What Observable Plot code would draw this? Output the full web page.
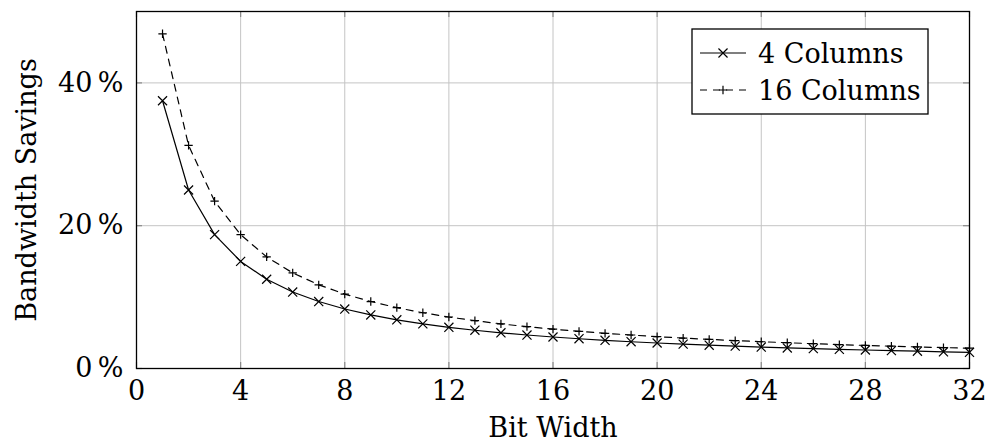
<!DOCTYPE html>
<html><head><meta charset="utf-8">
<script src="https://cdn.jsdelivr.net/npm/d3@7"></script>
<script src="https://cdn.jsdelivr.net/npm/@observablehq/plot@0.6"></script>
<style>
body{margin:0;background:#fff}
#chart{position:relative;width:988px;height:443px}
#chart svg{display:block}
</style>
</head><body><div id="chart"></div>
<script>
const bitWidths = [1,2,3,4,5,6,7,8,9,10,11,12,13,14,15,16,17,18,19,20,21,22,23,24,25,26,27,28,29,30,31,32];
const savings4 = [37.5,25.0,18.75,15.0,12.5,10.71,9.38,8.33,7.5,6.82,6.25,5.77,5.36,5.0,4.69,4.41,4.17,3.95,3.75,3.57,3.41,3.26,3.13,3.0,2.88,2.78,2.68,2.59,2.5,2.42,2.34,2.27];
const savings16 = [46.88,31.25,23.44,18.75,15.63,13.39,11.72,10.42,9.38,8.52,7.81,7.21,6.70,6.25,5.86,5.51,5.21,4.93,4.69,4.46,4.26,4.08,3.91,3.75,3.61,3.47,3.35,3.23,3.13,3.02,2.93,2.84];
const seriesNames = ["4 Columns", "16 Columns"];
const xTicks = [0,4,8,12,16,20,24,28,32];
const yTicks = [0,20,40];
const xLabel = "Bit Width";
const yLabel = "Bandwidth Savings";

const data4 = bitWidths.map((b,i) => ({b, v: savings4[i], s: seriesNames[0]}));
const data16 = bitWidths.map((b,i) => ({b, v: savings16[i], s: seriesNames[1]}));

const FONT = "DejaVu Serif";
const FS = 27;
const W = 988, H = 443;
const mL = 136, mR = 19, mT = 11, mB = 75;
const plotH = H - mT - mB, plotW = W - mL - mR;
const tickLen = 6;
const gridColor = "#c4c4c4";
const tickColor = "#8a8a8a";

const svg = Plot.plot({
  width: W, height: H,
  marginLeft: mL, marginRight: mR, marginTop: mT, marginBottom: mB,
  style: {fontFamily: FONT, background: "#fff", color: "black"},
  x: {domain: [0, 32]},
  y: {domain: [0, 50]},
  marks: [
    Plot.gridX(xTicks, {stroke: gridColor, strokeOpacity: 1, strokeWidth: 1}),
    Plot.gridY(yTicks, {stroke: gridColor, strokeOpacity: 1, strokeWidth: 1}),
    // inner tick marks (bottom, top, left, right)
    Plot.ruleX(xTicks, {x: d => d, y1: 50, y2: 0, insetTop: plotH - tickLen, stroke: tickColor, strokeWidth: 1.2}),
    Plot.ruleX(xTicks, {x: d => d, y1: 50, y2: 0, insetBottom: plotH - tickLen, stroke: tickColor, strokeWidth: 1.2}),
    Plot.ruleY(yTicks, {y: d => d, x1: 0, x2: 32, insetRight: plotW - tickLen, stroke: tickColor, strokeWidth: 1.2}),
    Plot.ruleY(yTicks, {y: d => d, x1: 0, x2: 32, insetLeft: plotW - tickLen, stroke: tickColor, strokeWidth: 1.2}),
    Plot.axisX({ticks: xTicks, tickSize: 0, tickPadding: 12, fontSize: FS, label: null, tickFormat: d => String(d)}),
    Plot.axisY({ticks: yTicks, tickSize: 0, tickPadding: 13, fontSize: FS, label: null, tickFormat: d => d + "\u2009%"}),
    Plot.frame({stroke: "black", strokeWidth: 1.3}),
    Plot.line(data16, {x: "b", y: "v", stroke: "black", strokeWidth: 1.2, strokeDasharray: "7,6"}),
    Plot.line(data4, {x: "b", y: "v", stroke: "black", strokeWidth: 1.2}),
    Plot.dot(data16, {x: "b", y: "v", symbol: "plus", r: 2.8, stroke: "black", fill: "none", strokeWidth: 1.2}),
    Plot.dot(data4, {x: "b", y: "v", symbol: "times", r: 4.2, stroke: "black", fill: "none", strokeWidth: 1.2}),
    Plot.text([xLabel], {frameAnchor: "bottom", dy: 68, lineAnchor: "bottom", textAnchor: "middle", fontSize: FS, fill: "black"}),
    Plot.text([yLabel], {frameAnchor: "left", dx: 27 - mL, rotate: -90, lineAnchor: "middle", textAnchor: "middle", fontSize: FS, fill: "black"})
  ]
});
document.getElementById("chart").appendChild(svg);

// Legend inside the plot area (top-right)
const root = d3.select(svg);
const lg = root.append("g").attr("font-family", FONT).attr("font-size", FS).attr("text-anchor", "start");
lg.append("rect").attr("x", 692).attr("y", 29).attr("width", 236).attr("height", 85)
  .attr("fill", "white").attr("stroke", "black").attr("stroke-width", 1.3);
const rows = [
  {name: seriesNames[0], dash: null, sym: d3.symbolTimes, size: Math.PI * 4.2 * 4.2, cy: 53},
  {name: seriesNames[1], dash: "7,6", sym: d3.symbolPlus, size: Math.PI * 2.8 * 2.8, cy: 90}
];
rows.forEach(r => {
  const g = lg.append("g");
  g.append("line").attr("x1", 700).attr("x2", 746).attr("y1", r.cy).attr("y2", r.cy)
    .attr("stroke", "black").attr("stroke-width", 1.2).attr("stroke-dasharray", r.dash);
  g.append("path").attr("d", d3.symbol(r.sym, r.size)()).attr("transform", `translate(723,${r.cy})`)
    .attr("stroke", "black").attr("fill", "none").attr("stroke-width", 1.2);
  g.append("text").attr("x", 758).attr("y", r.cy + 10).attr("text-anchor", "start").attr("fill", "black").text(r.name);
});
</script>
</body></html>
